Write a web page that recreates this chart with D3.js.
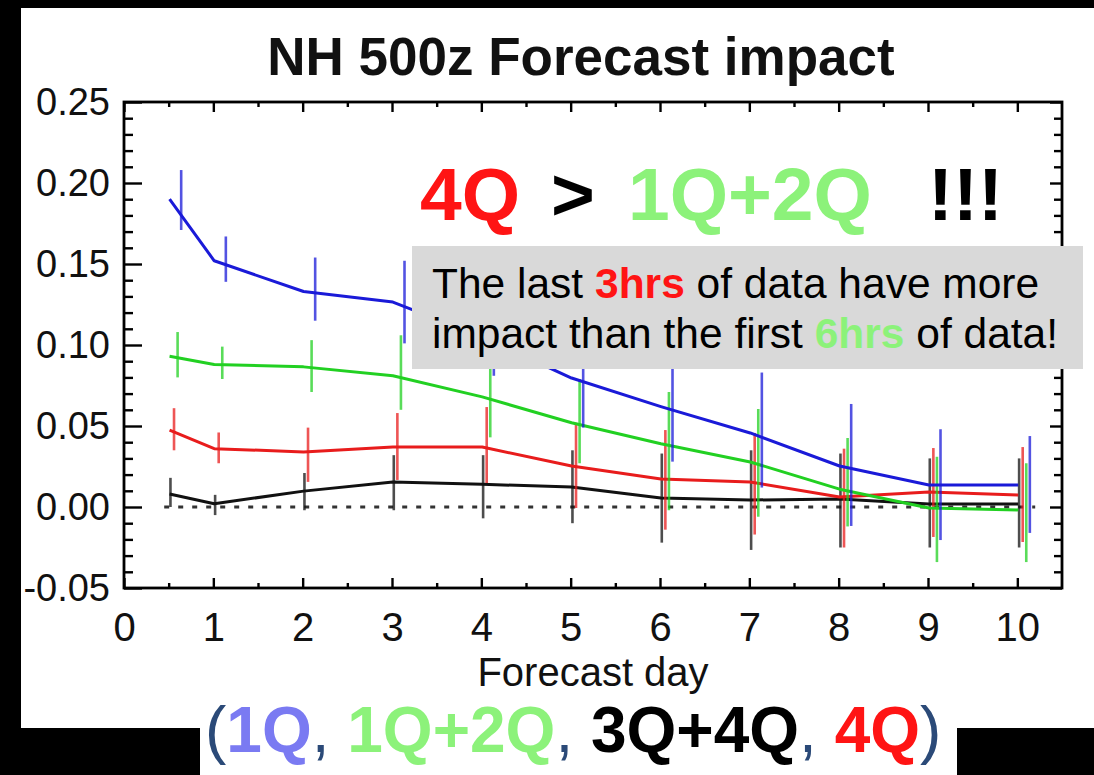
<!DOCTYPE html>
<html>
<head>
<meta charset="utf-8">
<script src="https://cdn.jsdelivr.net/npm/d3@7/dist/d3.min.js"></script>
<style>
  body { margin: 0; background: #000; }
  svg { display: block; }
  text { font-family: "Liberation Sans", Arial, Helvetica, sans-serif; }
</style>
</head>
<body>
<div id="chart"></div>
<script>
// forecast days (nominal) and axis ticks
const days = [0.5, 1, 2, 3, 4, 5, 6, 7, 8, 9, 10];
const xTicks = [0, 1, 2, 3, 4, 5, 6, 7, 8, 9, 10];
const yTicks = [-0.05, 0, 0.05, 0.10, 0.15, 0.20, 0.25];

// 3Q+4Q (black)
const q34 = [0.008, 0.002, 0.0098, 0.0155, 0.014, 0.0123, 0.0056, 0.0043, 0.005, 0.0019, 0.0019];
const q34Lo = [0.0, -0.005, -0.002, -0.002, -0.007, -0.010, -0.022, -0.0265, -0.025, -0.025, -0.025];
const q34Hi = [0.018, 0.0075, 0.021, 0.032, 0.032, 0.035, 0.033, 0.035, 0.033, 0.030, 0.030];

// 4Q (red)
const q4 = [0.0475, 0.036, 0.034, 0.037, 0.037, 0.0253, 0.0173, 0.0154, 0.0062, 0.0093, 0.0074];
const q4Lo = [0.035, 0.027, 0.0155, 0.0167, 0.0148, -0.0006, -0.014, -0.017, -0.025, -0.0185, -0.0216];
const q4Hi = [0.061, 0.046, 0.049, 0.058, 0.0617, 0.052, 0.0475, 0.0457, 0.036, 0.0364, 0.037];

// 1Q+2Q (green)
const q12 = [0.093, 0.088, 0.0865, 0.081, 0.068, 0.052, 0.039, 0.0278, 0.011, -0.0006, -0.0018];
const q12Lo = [0.080, 0.079, 0.071, 0.060, 0.043, 0.027, -0.002, -0.006, -0.012, -0.034, -0.034];
const q12Hi = [0.108, 0.099, 0.103, 0.106, 0.100, 0.079, 0.071, 0.0605, 0.0426, 0.031, 0.027];

// 1Q (blue)
const q1 = [0.19, 0.152, 0.133, 0.1265, 0.105, 0.0796, 0.062, 0.0457, 0.0253, 0.0136, 0.0136];
const q1Lo = [0.171, 0.139, 0.115, 0.101, 0.081, 0.049, 0.028, 0.012, -0.0117, -0.0204, -0.016];
const q1Hi = [0.208, 0.167, 0.154, 0.152, 0.130, 0.110, 0.095, 0.083, 0.0636, 0.048, 0.0438];

const width = 1094, height = 775;
const plot = { left: 124, right: 1062, top: 102, bottom: 588 };

// draw order: black, red, green, blue; error bars shifted a little per series
const series = [
  { name: '3Q+4Q', color: '#111111', v: q34, lo: q34Lo, hi: q34Hi, shift: 0.02 },
  { name: '4Q',    color: '#e81c1c', v: q4,  lo: q4Lo,  hi: q4Hi,  shift: 0.06 },
  { name: '1Q+2Q', color: '#22d022', v: q12, lo: q12Lo, hi: q12Hi, shift: 0.10 },
  { name: '1Q',    color: '#1a1ad8', v: q1,  lo: q1Lo,  hi: q1Hi,  shift: 0.14 }
];

const svg = d3.select('#chart').append('svg')
  .attr('width', width).attr('height', height);

// black surround, white panel
svg.append('rect').attr('width', width).attr('height', height).attr('fill', '#000');
svg.append('rect').attr('x', 21).attr('y', 8).attr('width', width - 21).attr('height', 720).attr('fill', '#fff');
svg.append('rect').attr('x', 200).attr('y', 720).attr('width', 757).attr('height', 55).attr('fill', '#fff');

const x = d3.scaleLinear().domain([0, 10.5]).range([plot.left, plot.right]);
const y = d3.scaleLinear().domain([-0.05, 0.25]).range([plot.bottom, plot.top]);

const minorX = d3.range(0.5, 10.5, 1);
const minorY = d3.range(-0.04, 0.25, 0.01).filter(v => Math.abs(Math.round(v * 100) % 5) !== 0);

const styleAxis = g => {
  g.select('.domain').remove();
  g.selectAll('.tick line').attr('stroke', '#000').attr('stroke-width', 2.4);
  g.selectAll('.tick text').attr('fill', '#111').attr('font-family', '"Liberation Sans", Arial, sans-serif');
};

// bottom axis with labels
svg.append('g')
  .attr('transform', `translate(0,${plot.bottom})`)
  .call(d3.axisBottom(x).tickValues(xTicks).tickSizeInner(-10).tickSizeOuter(0).tickPadding(25).tickFormat(d3.format('d')))
  .call(styleAxis)
  .call(g => g.selectAll('.tick text').attr('font-size', 40));
svg.append('g')
  .attr('transform', `translate(0,${plot.bottom})`)
  .call(d3.axisBottom(x).tickValues(minorX).tickSizeInner(-5).tickSizeOuter(0).tickFormat(''))
  .call(styleAxis);

// top axis, no labels
svg.append('g')
  .attr('transform', `translate(0,${plot.top})`)
  .call(d3.axisTop(x).tickValues(xTicks).tickSizeInner(-10).tickSizeOuter(0).tickFormat(''))
  .call(styleAxis);
svg.append('g')
  .attr('transform', `translate(0,${plot.top})`)
  .call(d3.axisTop(x).tickValues(minorX).tickSizeInner(-5).tickSizeOuter(0).tickFormat(''))
  .call(styleAxis);

// left axis with labels
svg.append('g')
  .attr('transform', `translate(${plot.left},0)`)
  .call(d3.axisLeft(y).tickValues(yTicks).tickSizeInner(-18).tickSizeOuter(0).tickPadding(14).tickFormat(d => d.toFixed(2)))
  .call(styleAxis)
  .call(g => g.selectAll('.tick text').attr('font-size', 38));
svg.append('g')
  .attr('transform', `translate(${plot.left},0)`)
  .call(d3.axisLeft(y).tickValues(minorY).tickSizeInner(-9).tickSizeOuter(0).tickFormat(''))
  .call(styleAxis);

// right axis
svg.append('g')
  .attr('transform', `translate(${plot.right},0)`)
  .call(d3.axisRight(y).tickValues(yTicks).tickSizeInner(-12).tickSizeOuter(0).tickFormat(''))
  .call(styleAxis);
svg.append('g')
  .attr('transform', `translate(${plot.right},0)`)
  .call(d3.axisRight(y).tickValues(minorY).tickSizeInner(-8).tickSizeOuter(0).tickFormat(''))
  .call(styleAxis);

// frame
svg.append('rect')
  .attr('x', plot.left).attr('y', plot.top)
  .attr('width', plot.right - plot.left).attr('height', plot.bottom - plot.top)
  .attr('fill', 'none').attr('stroke', '#000').attr('stroke-width', 2.8);

// dotted zero line
svg.append('line')
  .attr('x1', x(0.45)).attr('x2', x(10.2))
  .attr('y1', y(0)).attr('y2', y(0))
  .attr('stroke', '#333').attr('stroke-width', 3)
  .attr('stroke-dasharray', '5,9');

const line = d3.line()
  .x(d => x(d.day + 0.01))
  .y(d => y(d.v));

series.forEach(s => {
  const pts = days.map((day, i) => ({ day, v: s.v[i], lo: s.lo[i], hi: s.hi[i] }));
  const g = svg.append('g').attr('class', 'series');

  g.selectAll('line.err')
    .data(pts)
    .join('line')
    .attr('class', 'err')
    .attr('x1', d => x(d.day + s.shift)).attr('x2', d => x(d.day + s.shift))
    .attr('y1', d => y(d.lo)).attr('y2', d => y(d.hi))
    .attr('stroke', s.color).attr('stroke-width', 2.6).attr('stroke-opacity', 0.75);

  g.append('path')
    .datum(pts)
    .attr('fill', 'none')
    .attr('stroke', s.color)
    .attr('stroke-width', 3)
    .attr('stroke-linejoin', 'round')
    .attr('d', line);
});

// title
svg.append('text')
  .attr('x', 581).attr('y', 75)
  .attr('text-anchor', 'middle')
  .attr('font-size', 53).attr('font-weight', 'bold').attr('fill', '#111')
  .text('NH 500z Forecast impact');

// x axis title
svg.append('text')
  .attr('x', 593).attr('y', 686)
  .attr('text-anchor', 'middle')
  .attr('font-size', 40).attr('fill', '#111')
  .text('Forecast day');

// big claim
const claim = svg.append('g').attr('font-size', 75).attr('font-weight', 'bold');
claim.append('text').attr('x', 420).attr('y', 220).attr('fill', '#ff1414').text('4Q');
claim.append('text').attr('x', 551).attr('y', 220).attr('fill', '#000').text('>');
claim.append('text').attr('x', 628).attr('y', 220).attr('fill', '#8cf27a').text('1Q+2Q');
claim.append('text').attr('x', 928).attr('y', 220).attr('fill', '#000').text('!!!');

// grey note box
svg.append('rect')
  .attr('x', 412).attr('y', 246).attr('width', 671).attr('height', 123)
  .attr('fill', '#d9d9d9');

const note1 = svg.append('text').attr('x', 432).attr('y', 298).attr('font-size', 42.5).attr('fill', '#000');
note1.append('tspan').text('The last ');
note1.append('tspan').attr('font-weight', 'bold').attr('fill', '#ff1414').text('3hrs');
note1.append('tspan').text(' of data have more');

const note2 = svg.append('text').attr('x', 432).attr('y', 348).attr('font-size', 42.5).attr('fill', '#000');
note2.append('tspan').text('impact than the first ');
note2.append('tspan').attr('font-weight', 'bold').attr('fill', '#8cf27a').text('6hrs');
note2.append('tspan').text(' of data!');

// legend line
const legendParts = [
  { t: '(', c: '#2b4a78', b: false },
  { t: '1Q', c: '#7a7af2', b: true },
  { t: ', ', c: '#2b4a78', b: false },
  { t: '1Q+2Q', c: '#8cf27a', b: true },
  { t: ', ', c: '#2b4a78', b: false },
  { t: '3Q+4Q', c: '#000000', b: true },
  { t: ', ', c: '#2b4a78', b: false },
  { t: '4Q', c: '#ff1414', b: true },
  { t: ')', c: '#2b4a78', b: false }
];
svg.append('text')
  .attr('x', 205).attr('y', 752)
  .attr('font-size', 64)
  .selectAll('tspan')
  .data(legendParts)
  .join('tspan')
  .attr('fill', d => d.c)
  .attr('font-weight', d => d.b ? 'bold' : 'normal')
  .text(d => d.t);
</script>
</body>
</html>
